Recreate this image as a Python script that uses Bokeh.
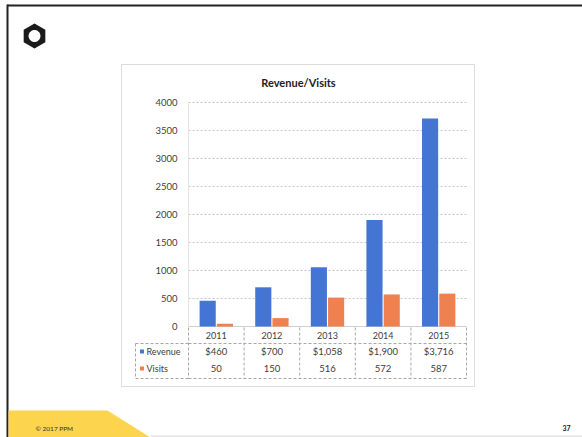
import math
from bokeh.plotting import figure
from bokeh.models import Range1d, ColumnDataSource
from bokeh.core.properties import value
from bokeh.transform import dodge
from bokeh.embed import file_html
from bokeh.resources import INLINE

# ---- data ----
years = [2011, 2012, 2013, 2014, 2015]
year_labels = ["2011", "2012", "2013", "2014", "2015"]
revenue = [460, 700, 1058, 1900, 3716]
visits = [50, 150, 516, 572, 587]
revenue_labels = ["$460", "$700", "$1,058", "$1,900", "$3,716"]
visits_labels = ["50", "150", "516", "572", "587"]
series_names = ["Revenue", "Visits"]
y_ticks = [0, 500, 1000, 1500, 2000, 2500, 3000, 3500, 4000]
chart_title = "Revenue/Visits"
footer_text = "© 2017 PPM"
page_number = "37"

BLUE = "#4474d4"
ORANGE = "#ef8050"
FONT = "Lato"
TXT = "#404040"
W, H = 582, 437

# page layout (pixels): chart plot area
PL, PR, PT, PB = 188, 466, 102, 326
X0, X1 = years[0] - 0.5, years[-1] + 0.5
Y0, Y1 = y_ticks[0], y_ticks[-1]
ux = (X1 - X0) / (PR - PL)
uy = (Y1 - Y0) / (PB - PT)

p = figure(width=W, height=H, output_backend="svg", toolbar_location=None,
           x_range=Range1d(0, W), y_range=Range1d(H, 0),
           x_axis_type=None, y_axis_type=None, min_border=0)
p.outline_line_color = None
p.background_fill_color = "white"
p.border_fill_color = "white"
p.xgrid.visible = False
p.ygrid.visible = False
p.extra_x_ranges = {"cx": Range1d(X0 - PL * ux, X1 + (W - PR) * ux)}
p.extra_y_ranges = {"cy": Range1d(Y0 - (H - PB) * uy, Y1 + PT * uy)}

C = dict(x_range_name="cx", y_range_name="cy")

# ---- slide decorations (page pixel coordinates) ----
p.patch([7, 582, 582, 7], [4, 4, 6, 6], fill_color="#222222", line_color=None)
p.patch([6, 8, 8, 6], [4, 4, 437, 437], fill_color="#222222", line_color=None)
cx0, cy0 = 34, 35.5
p.patch([cx0 + 12.5 * math.cos(math.radians(a)) for a in range(30, 390, 60)],
        [cy0 + 12.5 * math.sin(math.radians(a)) for a in range(30, 390, 60)],
        fill_color="#1a1a1a", line_color=None)
p.patch([cx0 + 6 * math.cos(math.radians(a)) for a in range(0, 360, 20)],
        [cy0 + 6 * math.sin(math.radians(a)) for a in range(0, 360, 20)],
        fill_color="white", line_color=None)
p.patch([8, 107, 150, 8], [410, 410, 437, 437], fill_color="#fcd44e", line_color=None)
p.patch([150, 582, 582, 150], [435, 435, 436, 436], fill_color="#dadada", line_color=None)
p.text(x=[35], y=[428], text=[footer_text], text_font=value(FONT), text_font_size="6.5px",
       text_color="#333333", text_baseline="middle")
p.text(x=[566], y=[427], text=[page_number], text_font=value(FONT), text_font_size="7px",
       text_font_style="bold", text_color="#222222", text_baseline="middle", text_align="center")

# chart box and title
p.patch([121, 474, 474, 121], [64, 64, 386, 386], fill_color=None, line_color="#dcdcdc", line_width=1)
p.text(x=[298], y=[82], text=[chart_title], text_font=value(FONT), text_font_size="11px",
       text_font_style="bold", text_color="#222222", text_align="center", text_baseline="middle")

# ---- chart (through chart scales) ----
p.segment(x0=[X0] * len(y_ticks[1:]), x1=[X1] * len(y_ticks[1:]), y0=y_ticks[1:], y1=y_ticks[1:],
          line_color="#c4c4c4", line_dash="2 2", line_width=1, **C)
p.segment(x0=[X0], x1=[X0], y0=[Y0], y1=[Y1], line_color="#e6e6e6", line_width=1, **C)
p.segment(x0=[X0], x1=[X1], y0=[Y0], y1=[Y0], line_color="#cfcfcf", line_width=1, **C)

src = ColumnDataSource(dict(year=years, revenue=revenue, visits=visits))
p.vbar(x=dodge("year", -0.155, range=p.extra_x_ranges["cx"]), top="revenue", width=0.29,
       source=src, fill_color=BLUE, line_color=None, **C)
p.vbar(x=dodge("year", 0.155, range=p.extra_x_ranges["cx"]), top="visits", width=0.29,
       source=src, fill_color=ORANGE, line_color=None, **C)

# y tick labels
p.text(x=[X0] * len(y_ticks), y=y_ticks, text=[str(t) for t in y_ticks], x_offset=-11,
       text_font=value(FONT), text_font_size="9.5px", text_color=TXT,
       text_align="right", text_baseline="middle", **C)

# ---- data table (x via chart scale, y in page pixels) ----
T = dict(x_range_name="cx")
TL = dict(line_color="#a8a8a8", line_dash="3 2", line_width=1)
p.text(x=years, y=[335] * len(years), text=year_labels, text_font=value(FONT), text_font_size="9px",
       text_color=TXT, text_align="center", text_baseline="middle", **T)
for yy in (343, 378):
    p.segment(x0=[X0], x1=[X1], y0=[yy], y1=[yy], **TL, **T)
    p.segment(x0=[135], x1=[188], y0=[yy], y1=[yy], **TL)
p.segment(x0=[135], x1=[135], y0=[343], y1=[378], **TL)
bounds = [X0] + [y + 0.5 for y in years]
p.segment(x0=bounds, x1=bounds, y0=[327] * len(bounds), y1=[378] * len(bounds), **TL, **T)

for row_y, name, color, texts in ((351, series_names[0], BLUE, revenue_labels),
                                  (368, series_names[1], ORANGE, visits_labels)):
    p.rect(x=[141.5], y=[row_y], width=4, height=4, fill_color=color, line_color=None)
    p.text(x=[146], y=[row_y], text=[name], text_font=value(FONT), text_font_size="9px",
           text_color=TXT, text_baseline="middle")
    p.text(x=years, y=[row_y] * len(years), text=texts, text_font=value(FONT),
           text_font_size="9.5px", text_color=TXT, text_align="center", text_baseline="middle", **T)

open("out.html", "w").write(file_html(p, INLINE))
